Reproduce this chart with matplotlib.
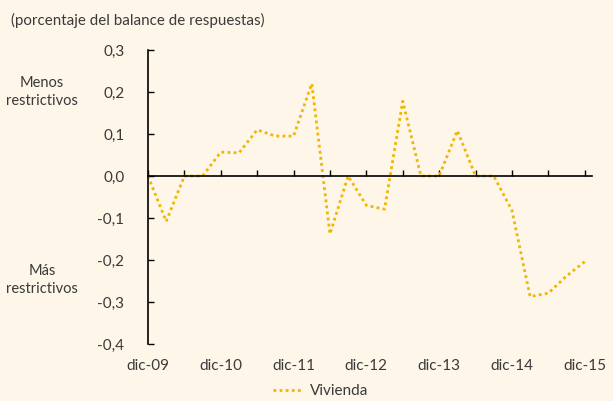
import matplotlib
matplotlib.use("Agg")
import matplotlib.pyplot as plt
from matplotlib.lines import Line2D
from matplotlib.transforms import blended_transform_factory
import numpy as np

plt.rcParams['font.family'] = ['Lato', 'DejaVu Sans']

# Quarterly data, dic-09 .. dic-15
vivienda = [0.0, -0.108, 0.0, 0.0, 0.057, 0.055, 0.11, 0.095, 0.095, 0.22,
            -0.138, 0.0, -0.07, -0.079, 0.178, 0.0, 0.0, 0.108, 0.0, 0.0,
            -0.082, -0.287, -0.279, -0.238, -0.204]
x_labels = ['dic-09', 'dic-10', 'dic-11', 'dic-12', 'dic-13', 'dic-14', 'dic-15']
y_ticks = [0.3, 0.2, 0.1, 0.0, -0.1, -0.2, -0.3, -0.4]
title = '(porcentaje del balance de respuestas)'
series_name = 'Vivienda'

bg = '#FDF6E9'
gold = '#F2B600'
txt = '#3a3a3a'

fig = plt.figure(figsize=(6.13, 4.01), dpi=100, facecolor=bg)
ax = fig.add_axes([148/613, 1-344/401, (592-148)/613, (344-50)/401])
ax.set_facecolor(bg)

xs = np.arange(len(vivienda))
ax.plot(xs, vivienda, color=gold, lw=2.0, linestyle=(0, (1, 1.2)),
        dash_capstyle='butt', solid_joinstyle='round')

ax.set_xlim(0, 24.4)
ax.set_ylim(-0.4, 0.3)

for s in ['top', 'right']:
    ax.spines[s].set_visible(False)
ax.spines['bottom'].set_position(('data', 0))
ax.spines['left'].set_color('black')
ax.spines['bottom'].set_color('black')
ax.spines['left'].set_linewidth(1.2)
ax.spines['bottom'].set_linewidth(1.2)

ax.set_xticks(np.arange(0, 25, 2))
ax.tick_params(axis='x', direction='in', length=4, width=1, labelbottom=False)
ax.set_yticks(y_ticks)
ax.set_yticklabels([f'{v:.1f}'.replace('.', ',') for v in y_ticks], fontsize=11, color=txt)
ax.tick_params(axis='y', direction='in', length=4, width=1, pad=17)

trans = blended_transform_factory(ax.transData, fig.transFigure)
for k, lab in enumerate(x_labels):
    ax.text(k*4, 1-366/401, lab, transform=trans, ha='center', va='center',
            fontsize=11, color=txt)

fig.text(11/613, 1-20/401, title, ha='left', va='center', fontsize=10.9, color=txt)
fig.text(42/613, 1-92/401, 'Menos\nrestrictivos', ha='center', va='center',
         fontsize=10.5, color=txt, linespacing=1.45)
fig.text(42/613, 1-280/401, 'Más\nrestrictivos', ha='center', va='center',
         fontsize=10.5, color=txt, linespacing=1.45)

handle = Line2D([], [], color=gold, lw=2.0, linestyle=(0, (1, 1.2)))
fig.legend([handle], [series_name], loc='center', bbox_to_anchor=(321/613, 1-391/401),
           frameon=False, fontsize=11, handlelength=1.8, handletextpad=0.6,
           labelcolor=txt)

fig.savefig('out.png', dpi=100, facecolor=bg)
